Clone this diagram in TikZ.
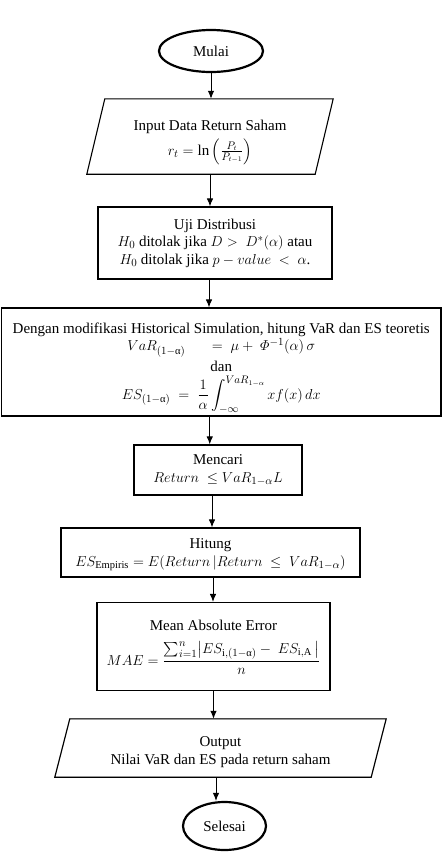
\documentclass[tikz,border=0pt]{standalone}
\usepackage{amsmath}
\usepackage{fontspec}
\setmainfont{Liberation Serif}
\usetikzlibrary{arrows.meta,shapes.geometric}
\newcommand{\ua}{\text{α}}
\newcommand{\fs}{\fontsize{15}{17.5}\selectfont}
\begin{document}
\begin{tikzpicture}[x=1pt,y=-1pt,
  box/.style={draw, line width=1.1pt, inner sep=0pt, align=center, font=\fs},
  iobody/.style={inner sep=0pt, align=center, font=\fs},
  io/.style={line width=1.1pt, line join=miter},
  term/.style={ellipse, draw, line width=2.2pt, inner sep=0pt, font=\fs},
  arr/.style={-{Latex[length=8pt,width=6.5pt]}, line width=1pt}]
  \useasboundingbox (0,0) rectangle (442,857);

  % terminals
  \node[term, minimum width=104, minimum height=42] (start) at (211,51) {Mulai};
  \node[term, minimum width=83, minimum height=48] (stop) at (224.5,826) {Selesai};

  % input parallelogram
  \node[iobody, minimum width=228, minimum height=75] (inp) at (210,136.5)
    {\rule{0pt}{22pt}Input Data Return Saham\\[4pt] $r_t=\ln\left(\frac{P_t}{P_{t-1}}\right)$};
  \draw[io] ([xshift=9pt]inp.north west) -- ([xshift=9pt]inp.north east)
    -- ([xshift=-9pt]inp.south east) -- ([xshift=-9pt]inp.south west) -- cycle;

  % process boxes
  \node[box, minimum width=234, minimum height=72] (uji) at (215,243)
    {Uji Distribusi\\ $H_0$ ditolak jika $D >\ D^{*}(\alpha)$ atau\\
     $H_0$ ditolak jika $p-value\ <\ \alpha$.};

  \node[box, minimum width=439.5, minimum height=108] (hs) at (221.25,362)
    {\rule{0pt}{22.5pt}Dengan modifikasi Historical Simulation, hitung VaR dan ES teoretis\\
     $VaR_{(1-\ua)}\quad\ \ =\ \mu+\ \varPhi^{-1}(\alpha)\,\sigma$\\[3pt]
     dan\\[4pt]
     $ES_{(1-\ua)}\;=\;\dfrac{1}{\alpha}\displaystyle\int_{-\infty}^{VaR_{1-\alpha}}xf(x)\,dx$};

  \node[box, minimum width=168, minimum height=50] (cari) at (218,470)
    {Mencari\\ $Return\ \le VaR_{1-\alpha}L$};

  \node[box, minimum width=299, minimum height=49] (hit) at (210.5,552.5)
    {\rule{0pt}{14pt}Hitung\\ $ES_{\mathrm{Empiris}}=E(Return\,|Return\ \le\ VaR_{1-\alpha})$};

  \node[box, minimum width=233, minimum height=81] (mae) at (213.5,646.5)
    {\rule{0pt}{27.5pt}Mean Absolute Error\\[10pt]
     $MAE=\dfrac{\textstyle\sum_{i=1}^{n}\bigl|ES_{\mathrm{i},(1-\ua)}-\ ES_{\mathrm{i,A}}\,\bigr|}{n}$\\[8pt]};

  % output parallelogram with a light shadow
  \node[iobody, minimum width=316, minimum height=58] (out) at (220.5,748)
    {\rule{0pt}{18pt}Output\\ Nilai VaR dan ES pada return saham};
  \draw[io, gray!45, line width=1.2pt, shift={(1.5,2.2)}]
    ([xshift=7.5pt]out.north west) -- ([xshift=7.5pt]out.north east)
    -- ([xshift=-7.5pt]out.south east) -- ([xshift=-7.5pt]out.south west) -- cycle;
  \draw[io] ([xshift=7.5pt]out.north west) -- ([xshift=7.5pt]out.north east)
    -- ([xshift=-7.5pt]out.south east) -- ([xshift=-7.5pt]out.south west) -- cycle;

  % connectors
  \draw[arr] (start.south) -- (start.south |- inp.north);
  \draw[arr] (inp.south) -- (inp.south |- uji.north);
  \draw[arr] ([xshift=-6pt]uji.south) -- ([xshift=-6pt]uji.south |- hs.north);
  \draw[arr] ([xshift=-11.5pt]hs.south) -- ([xshift=-11.5pt]hs.south |- cari.north);
  \draw[arr] ([xshift=-6pt]cari.south) -- ([xshift=-6pt]cari.south |- hit.north);
  \draw[arr] ([xshift=2.5pt]hit.south) -- ([xshift=2.5pt]hit.south |- mae.north);
  \draw[arr] (mae.south) -- (mae.south |- out.north);
  \draw[arr] ([xshift=-4.5pt]out.south) -- ([xshift=-4.5pt]out.south |- stop.north);
\end{tikzpicture}
\end{document}
